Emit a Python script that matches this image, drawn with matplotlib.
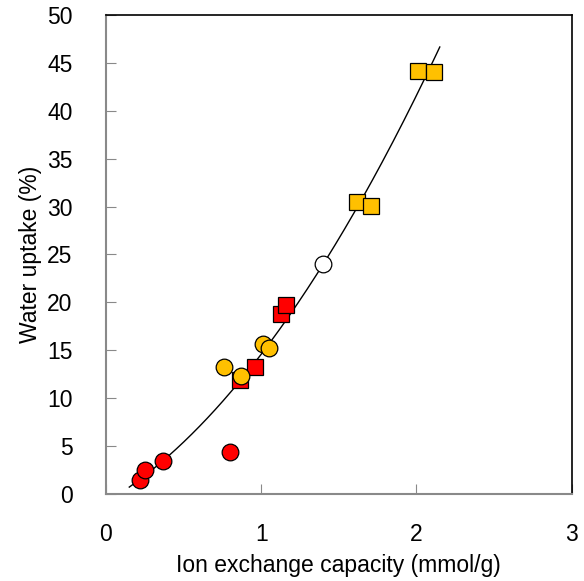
import numpy as np
import matplotlib
matplotlib.use('Agg')
import matplotlib.pyplot as plt

plt.rcParams['font.family'] = ['Liberation Sans', 'DejaVu Sans']

# red circles
red_circ_x = [0.22, 0.25, 0.37, 0.80]
red_circ_y = [1.4, 2.5, 3.4, 4.4]
# red squares
red_sq_x = [0.86, 0.96, 1.13, 1.16]
red_sq_y = [11.9, 13.2, 18.8, 19.7]
# yellow circles
yel_circ_x = [0.76, 0.87, 1.01, 1.05]
yel_circ_y = [13.2, 12.3, 15.7, 15.2]
# white circle
white_circ_x = [1.40]
white_circ_y = [24.0]
# yellow squares
yel_sq_x = [1.62, 1.71, 2.01, 2.11]
yel_sq_y = [30.5, 30.1, 44.2, 44.1]

fit_range = (0.15, 2.15)

fig = plt.figure(figsize=(5.84, 5.81), dpi=100)
ax = fig.add_axes([0.1815, 0.150, 0.7975, 0.824])

# 2nd order trend line through all points
all_x = red_circ_x + red_sq_x + yel_circ_x + white_circ_x + yel_sq_x
all_y = red_circ_y + red_sq_y + yel_circ_y + white_circ_y + yel_sq_y
coef = np.polyfit(all_x, all_y, 2)
xs = np.linspace(fit_range[0], fit_range[1], 200)
ax.plot(xs, np.polyval(coef, xs), color='black', lw=1, zorder=1)

ms = 12
ax.plot(red_circ_x, red_circ_y, 'o', color='#ff0000', mec='black', mew=0.9, ms=ms, zorder=3)
ax.plot(red_sq_x, red_sq_y, 's', color='#ff0000', mec='black', mew=0.9, ms=ms, zorder=3)
ax.plot(yel_circ_x, yel_circ_y, 'o', color='#ffc000', mec='black', mew=0.9, ms=ms, zorder=3)
ax.plot(white_circ_x, white_circ_y, 'o', color='white', mec='black', mew=0.9, ms=ms, zorder=3)
ax.plot(yel_sq_x, yel_sq_y, 's', color='#ffc000', mec='black', mew=0.9, ms=ms, zorder=3)

ax.set_xlim(0, 3)
ax.set_ylim(0, 50)
ax.set_xticks([0, 1, 2, 3])
ax.set_yticks(range(0, 51, 5))
ax.tick_params(direction='in', length=7, color='#898989', labelsize=16.5)
ax.tick_params(axis='y', pad=24)
ax.tick_params(axis='x', pad=21)
for s in ['left', 'bottom']:
    ax.spines[s].set_color('#898989')
    ax.spines[s].set_linewidth(1.5)
for s in ['top', 'right']:
    ax.spines[s].set_color('black')
    ax.spines[s].set_linewidth(1.2)

ax.set_xlabel('Ion exchange capacity (mmol/g)', fontsize=16.5, labelpad=6)
ax.set_ylabel('Water uptake (%)', fontsize=16.5, labelpad=4)

fig.savefig('out.png', dpi=100)
